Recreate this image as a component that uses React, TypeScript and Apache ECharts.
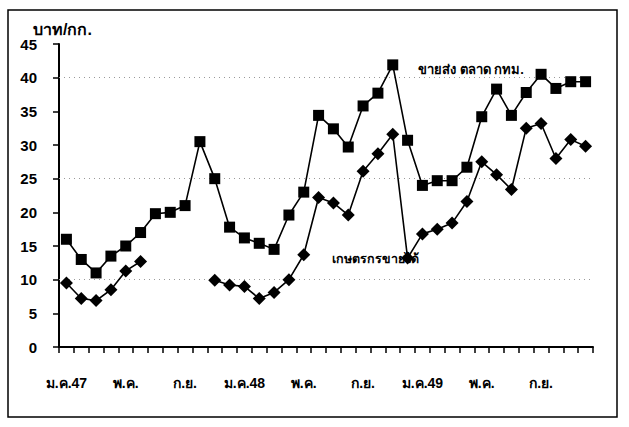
import React, { useEffect, useRef } from "react";
import * as echarts from "echarts";

const categories = [
  "ม.ค.47", "ก.พ.", "มี.ค.", "เม.ย.", "พ.ค.", "มิ.ย.", "ก.ค.", "ส.ค.", "ก.ย.", "ต.ค.", "พ.ย.", "ธ.ค.",
  "ม.ค.48", "ก.พ.", "มี.ค.", "เม.ย.", "พ.ค.", "มิ.ย.", "ก.ค.", "ส.ค.", "ก.ย.", "ต.ค.", "พ.ย.", "ธ.ค.",
  "ม.ค.49", "ก.พ.", "มี.ค.", "เม.ย.", "พ.ค.", "มิ.ย.", "ก.ค.", "ส.ค.", "ก.ย.", "ต.ค.", "พ.ย.", "ธ.ค.",
];

const wholesale = [
  16, 13, 11, 13.5, 15, 17, 19.8, 20, 21, 30.5, 25, 17.8,
  16.2, 15.4, 14.5, 19.6, 23, 34.4, 32.4, 29.7, 35.8, 37.7, 41.9, 30.7,
  24, 24.7, 24.7, 26.7, 34.2, 38.3, 34.4, 37.8, 40.5, 38.4, 39.4, 39.4,
];

const farmer = [
  9.5, 7.2, 6.9, 8.5, 11.3, 12.7, null, null, null, null, 9.9, 9.2,
  9.0, 7.2, 8.1, 10.0, 13.7, 22.2, 21.4, 19.6, 26.1, 28.7, 31.6, 13.2,
  16.8, 17.5, 18.4, 21.6, 27.5, 25.6, 23.4, 32.5, 33.2, 28.0, 30.8, 29.8,
];

const gridValues = [10, 25, 40];

const seriesNames = ["ขายส่ง ตลาด กทม.", "เกษตรกรขายได้"];
const unitLabel = "บาท/กก.";

const FONT = "Tahoma, 'Liberation Sans', Arial, sans-serif";

export default function App() {
  const ref = useRef<HTMLDivElement>(null);
  useEffect(() => {
    if (!ref.current) return;
    const chart = echarts.init(ref.current, undefined, { renderer: "svg" });
    chart.setOption({
      animation: false,
      backgroundColor: "#ffffff",
      grid: { left: 59, right: 36, top: 44, bottom: 80 },
      xAxis: {
        type: "category",
        data: categories,
        boundaryGap: true,
        axisLine: { show: true, lineStyle: { color: "#000", width: 2 } },
        axisTick: {
          show: true,
          interval: 0,
          alignWithLabel: false,
          inside: false,
          length: 6,
          lineStyle: { color: "#000", width: 1.5 },
        },
        axisLabel: {
          interval: 3,
          margin: 29,
          color: "#000",
          fontSize: 14,
          fontWeight: "bold",
          fontFamily: FONT,
        },
        splitLine: { show: false },
      },
      yAxis: {
        type: "value",
        min: 0,
        max: 45,
        interval: 5,
        axisLine: { show: true, lineStyle: { color: "#000", width: 2 } },
        axisTick: { show: true, length: 6, lineStyle: { color: "#000", width: 1.5 } },
        axisLabel: {
          margin: 22,
          color: "#000",
          fontSize: 15,
          fontWeight: "bold",
          fontFamily: FONT,
        },
        splitLine: { show: false },
      },
      series: [
        {
          name: seriesNames[0],
          type: "line",
          data: wholesale,
          symbol: "rect",
          symbolSize: 11,
          showAllSymbol: true,
          lineStyle: { color: "#000", width: 1.6 },
          itemStyle: { color: "#000" },
          markLine: {
            silent: true,
            symbol: "none",
            label: { show: false },
            lineStyle: { color: "#999", type: [1, 4], width: 1 },
            data: gridValues.map((v) => ({ yAxis: v })),
            z: 1,
          },
          z: 3,
        },
        {
          name: seriesNames[1],
          type: "line",
          data: farmer,
          connectNulls: false,
          symbol: "diamond",
          symbolSize: 13,
          showAllSymbol: true,
          lineStyle: { color: "#000", width: 1.6 },
          itemStyle: { color: "#000" },
          z: 3,
        },
      ],
      graphic: [
        {
          type: "rect",
          shape: { x: 8, y: 10, width: 609, height: 407 },
          style: { fill: "none", stroke: "#000", lineWidth: 1.5 },
          silent: true,
        },
        {
          type: "text",
          x: 33,
          y: 21,
          style: { text: unitLabel, fill: "#000", font: `bold 16px ${FONT}` },
        },
        {
          type: "text",
          x: 418,
          y: 63,
          style: { text: seriesNames[0], fill: "#000", font: `bold 13px ${FONT}` },
          z: 10,
        },
        {
          type: "text",
          x: 332,
          y: 252,
          style: { text: seriesNames[1], fill: "#000", font: `bold 12.5px ${FONT}` },
          z: 10,
        },
      ],
    });
    return () => chart.dispose();
  }, []);
  return (
    <div
      ref={ref}
      style={{ position: "fixed", left: 0, top: 0, width: 629, height: 427 }}
    />
  );
}
